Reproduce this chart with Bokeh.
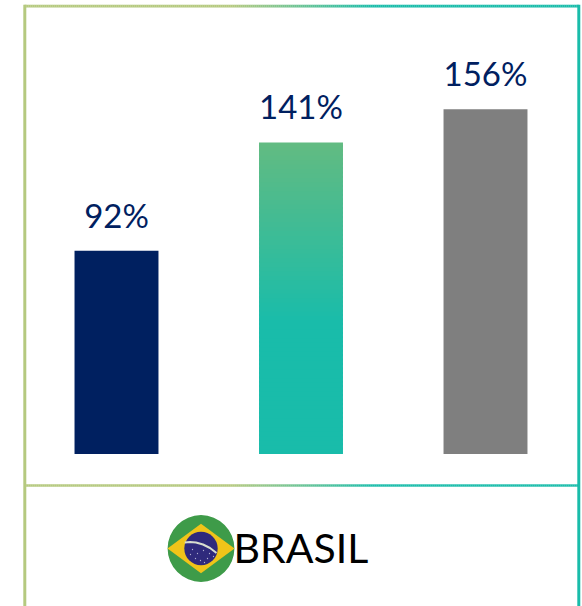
from bokeh.plotting import figure
from bokeh.embed import file_html
from bokeh.resources import INLINE
from bokeh.models import Range1d
from bokeh.core.properties import value
import numpy as np

categories = [0, 1, 2]
values = [92, 141, 156]
labels = ["92%", "141%", "156%"]
bar_colors = ["#002060", None, "#7F7F7F"]
country = "BRASIL"

W, H = 582, 606
p = figure(width=W, height=H, output_backend="svg", toolbar_location=None,
           x_range=Range1d((0-116)/184.5, (W-116)/184.5),
           y_range=Range1d((453.6-H)/2.21, 453.6/2.21),
           x_axis_type=None, y_axis_type=None, min_border=0,
           outline_line_color=None, background_fill_color="white",
           margin=(0, 0, 0, 0))
p.grid.visible = False
p.extra_x_ranges["px"] = Range1d(0, W)
p.extra_y_ranges["px"] = Range1d(H, 0)

def lerp(c1, c2, t):
    return "#%02x%02x%02x" % tuple(int(round(a + (b - a) * t)) for a, b in zip(c1, c2))

GREEN = (98, 187, 130)
TEAL = (25, 188, 170)
OLIVE = (181, 201, 127)
BW = 0.455

# solid bars
for c, v, col in zip(categories, values, bar_colors):
    if col:
        p.quad(left=c-BW/2, right=c+BW/2, bottom=0, top=v, fill_color=col, line_color=None)

# gradient bar
c, v = categories[1], values[1]
n = 70
edges = np.linspace(0, v, n + 1)
cols = []
for i in range(n):
    f = (i + 0.5) / n
    t = max(0, (f - 0.42) / 0.58)
    cols.append(lerp(TEAL, GREEN, t))
p.quad(left=c-BW/2, right=c+BW/2, bottom=edges[:-1], top=np.minimum(edges[1:] + 1.0, v),
       fill_color=cols, line_color=None)

# value labels
p.text(x=categories, y=values, text=labels, text_font=value("Lato"), text_font_size="33px",
       text_color="#002060", text_align="center", text_baseline="alphabetic", y_offset=-36)

# frame
def grad_h(x0, x1, y, lw):
    xs = np.arange(x0, x1, 2.0)
    cs = [lerp(OLIVE, TEAL, min(1, max(0, (x - 230) / 143))) for x in xs]
    p.segment(x0=xs, x1=xs + 2.2, y0=y, y1=y, line_color=cs, line_width=lw,
              x_range_name="px", y_range_name="px")

grad_h(24, 578, 5.6, 2.8)
grad_h(24, 578, 485, 2.4)
p.segment(x0=[24.3], x1=[24.3], y0=[4.2], y1=[606], line_color=lerp(OLIVE, OLIVE, 0), line_width=3,
          x_range_name="px", y_range_name="px")
p.segment(x0=[578.3], x1=[578.3], y0=[4.2], y1=[606], line_color=lerp(TEAL, TEAL, 0), line_width=3,
          x_range_name="px", y_range_name="px")

# flag
cx, cy = 200.5, 548
kw = dict(x_range_name="px", y_range_name="px", line_color=None)
p.circle(x=[cx], y=[cy], radius=33.4, fill_color="#3E9B49", **kw)
p.patch(x=[cx-33.5, cx, cx+33.5, cx], y=[cy, cy-24.7, cy, cy+24.7], fill_color="#F0C419", **kw)
p.circle(x=[cx], y=[cy], radius=16.7, fill_color="#2F2A7C", **kw)
p.line(x=[184.3, 189.5, 195.5, 202.5, 209.5, 216], y=[542, 541.5, 542, 544, 547.5, 552.5],
       line_color="#D8DDD0", line_width=2, x_range_name="px", y_range_name="px")
p.scatter(x=[192, 197, 203, 209, 195, 200, 207, 213, 190, 204], y=[549, 553, 550, 553, 558, 560, 558, 556, 554, 562],
          size=1.3, fill_color="#AFAFD0", x_range_name="px", y_range_name="px", line_color=None)

p.text(x=[233], y=[547], text=[country], text_font=value("Lato"), text_font_size="41px",
       text_color="#000000", text_align="left", text_baseline="alphabetic",
       x_range_name="px", y_range_name="px")

open("out.html", "w").write(file_html(p, INLINE))
